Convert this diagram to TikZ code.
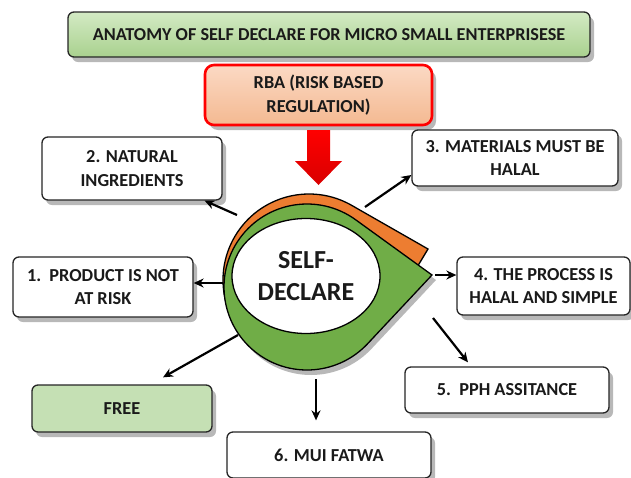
\documentclass[tikz,border=0pt]{standalone}
\usepackage{fontspec}
\setmainfont{Carlito}
\usetikzlibrary{shadows,arrows.meta,calc,shapes.geometric}
\definecolor{titletop}{HTML}{D3EAC4}
\definecolor{titlebot}{HTML}{A9D18E}
\definecolor{freefill}{HTML}{C5E0B4}
\definecolor{rbatop}{HTML}{FBD9C4}
\definecolor{rbabot}{HTML}{F4B991}
\definecolor{ringgreen}{HTML}{70AD47}
\definecolor{ringorange}{HTML}{ED7D31}
\definecolor{txt}{HTML}{1A1A1A}
\begin{document}
\begin{tikzpicture}[x=1pt,y=-1pt,
  shad/.style={drop shadow={shadow xshift=4pt,shadow yshift=-5pt,opacity=0.28,fill=black}},
  box/.style={shad,draw=black!85,line width=1.3pt,rounded corners=6pt,fill=white,
    align=center,inner sep=0pt,text=txt,font=\fontsize{18.3}{23.5}\selectfont\bfseries},
  conn/.style={-{Stealth[length=10pt,width=9pt]},line width=2.2pt,draw=black}]
\useasboundingbox (0,0) rectangle (631,477);
\fill[white] (0,0) rectangle (631,477);

% title
\node[box,top color=titletop,bottom color=titlebot,minimum width=522pt,minimum height=45pt,
  font=\fontsize{18.2}{22}\selectfont\bfseries] (title) at (329,34.5)
  {ANATOMY OF SELF DECLARE FOR MICRO SMALL ENTERPRISESE};

% RBA
\node[box,draw=red,line width=2.6pt,rounded corners=9pt,top color=rbatop,bottom color=rbabot,
  minimum width=227pt,minimum height=60pt] (rba) at (318.5,95)
  {RBA (RISK BASED\\REGULATION)};

% red block arrow
\shade[top color=red,bottom color=red!85!black]
  (307,130) -- (330,130) -- (330,161) -- (342,161) -- (318.5,185) -- (295,161) -- (307,161) -- cycle;

% ring
\filldraw[fill=ringorange,draw=black,line width=1.3pt]
  (428,249) -- ($(309,280)+(-59.65:86)$) arc[start angle=-59.65,end angle=-328.65,radius=86] -- cycle;
\filldraw[shad,fill=ringgreen,draw=black,line width=1.3pt]
  (432,275) -- ($(307,287)+(-54.1:83)$) arc[start angle=-54.1,end angle=-316.9,radius=83] -- cycle;
\node[ellipse,draw=black,line width=1.3pt,fill=white,minimum width=148pt,minimum height=115pt,
  inner sep=0pt,align=center,text=txt,font=\fontsize{26}{32}\selectfont\bfseries] (core) at (306,276)
  {SELF-\\DECLARE};

% boxes
\node[box,minimum width=180pt,minimum height=63pt] (n2) at (132,168.5) {2. NATURAL\\INGREDIENTS};
\node[box,minimum width=180pt,minimum height=60pt] (n1) at (103,287) {1.\ \ PRODUCT IS NOT\\AT RISK};
\node[box,minimum width=206pt,minimum height=56pt] (n3) at (515,158) {3. MATERIALS MUST BE\\HALAL};
\node[box,minimum width=173pt,minimum height=58pt] (n4) at (543.5,286) {4. THE PROCESS IS\\HALAL AND SIMPLE};
\node[box,minimum width=204pt,minimum height=46pt] (n5) at (507,390) {5.\ \ PPH ASSITANCE};
\node[box,fill=freefill,minimum width=180pt,minimum height=47pt] (free) at (122,408.5) {FREE};
\node[box,minimum width=204pt,minimum height=46pt] (n6) at (329,455) {6. MUI FATWA};

% connector start points on the ring
\coordinate (s1) at (223,283);
\coordinate (s2) at (237,215);
\coordinate (s3) at (365,207);
\coordinate (s4) at (435,275);
\coordinate (s5) at (433,318);
\coordinate (s6) at (316,379);
\coordinate (sf) at (238,335);

\draw[conn] (s1) -- ([yshift=4pt]n1.east);
\draw[conn] (s2) -- (n2);
\draw[conn] (s3) -- ([yshift=-17pt]n3.west);
\draw[conn] (s4) -- ([yshift=11pt]n4.west);
\draw[conn] (s5) -- ([xshift=-39pt,yshift=4pt]n5.north);
\draw[conn] (s6) -- ([xshift=-13pt,yshift=11pt]n6.north);
\draw[conn] (sf) -- ([xshift=41pt,yshift=7pt]free.north);
\end{tikzpicture}
\end{document}
